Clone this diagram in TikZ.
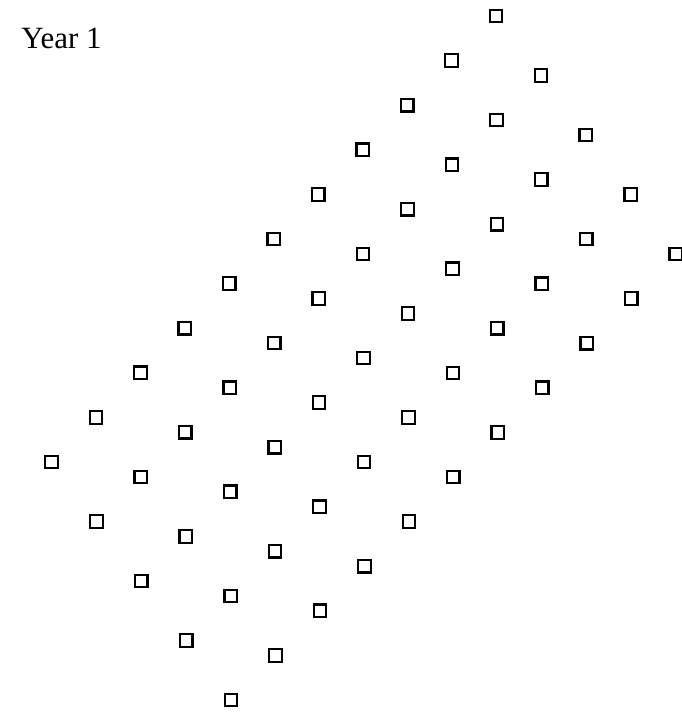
\documentclass[tikz,border=0pt]{standalone}
\usepackage{fontspec}
\setmainfont{Liberation Serif}

\tikzset{
  cell/.style={draw,line width=1.3pt,minimum size=0.25cm,inner sep=0pt}
}

\begin{document}
\begin{tikzpicture}[x=0.02cm,y=-0.02cm,line join=miter]
  \useasboundingbox (0,0) rectangle (681,715);
  \node[anchor=base west,inner sep=0pt,font=\fontsize{17.6}{20}\selectfont] (year) at (21,49) {Year 1};
  \foreach \j in {0,...,4}
    \foreach \k in {0,...,10}
      \node[cell] (s-\j-\k) at ({51.5+44.45*\k+44.9*\j},{462-44.6*\k+59.5*\j}) {};
\end{tikzpicture}
\end{document}
